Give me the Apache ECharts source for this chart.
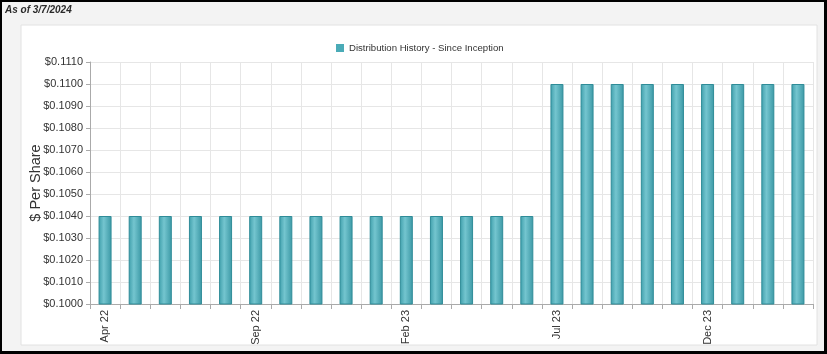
<!DOCTYPE html>
<html>
<head>
<meta charset="utf-8">
<script src="https://cdn.jsdelivr.net/npm/echarts@6/dist/echarts.min.js"></script>
<style>
  html, body { margin: 0; padding: 0; background: #000; }
  #main {
    width: 822px; height: 349px;
    border-style: solid; border-color: #000;
    border-width: 2px 3px 3px 2px;
    background: #f3f3f3;
  }
</style>
</head>
<body>
<div id="main"></div>
<script>
var months = ['Apr 22','May 22','Jun 22','Jul 22','Aug 22','Sep 22','Oct 22','Nov 22','Dec 22',
              'Jan 23','Feb 23','Mar 23','Apr 23','May 23','Jun 23','Jul 23','Aug 23','Sep 23',
              'Oct 23','Nov 23','Dec 23','Jan 24','Feb 24','Mar 24'];
var distributions = [0.104,0.104,0.104,0.104,0.104,0.104,0.104,0.104,0.104,0.104,0.104,0.104,0.104,0.104,0.104,
                     0.110,0.110,0.110,0.110,0.110,0.110,0.110,0.110,0.110];
var seriesName = 'Distribution History - Since Inception';
var asOfText = 'As of 3/7/2024';

document.addEventListener('DOMContentLoaded', function () {
  var myChart = echarts.init(document.getElementById('main'));

  var barColor = new echarts.graphic.LinearGradient(0, 0, 1, 0, [
    { offset: 0, color: '#3f9fab' },
    { offset: 0.4, color: '#74c5cf' },
    { offset: 1, color: '#3b98a5' }
  ]);

  var option = {
    animation: false,
    title: {
      text: asOfText,
      left: 3, top: 3, padding: 0,
      textStyle: { fontFamily: 'Liberation Sans', fontSize: 10, fontStyle: 'italic', fontWeight: 'bold', color: '#2a2a2a' }
    },
    graphic: [{
      type: 'rect', z: -10, silent: true,
      shape: { x: 19, y: 23, width: 796, height: 320 },
      style: { fill: '#fff', stroke: '#e2e2e2', lineWidth: 1 }
    }],
    legend: {
      left: 329, top: 36,
      itemWidth: 8, itemHeight: 8, itemGap: 10,
      textStyle: { fontFamily: 'Liberation Sans', fontSize: 9.6, color: '#333' },
      data: [{ name: seriesName, icon: 'rect', itemStyle: { color: '#4aabb7', borderWidth: 0 } }]
    },
    grid: { left: 88, top: 60, right: 11, bottom: 47 },
    xAxis: {
      type: 'category',
      data: months,
      axisLine: { lineStyle: { color: '#aaa' } },
      axisTick: { show: true, interval: 0, length: 5, lineStyle: { color: '#aaa' } },
      splitLine: { show: true, interval: 0, lineStyle: { color: '#e6e6e6' } },
      axisLabel: {
        interval: 4, rotate: 90, margin: 6,
        fontFamily: 'Liberation Sans', fontSize: 11, color: '#333'
      }
    },
    yAxis: {
      type: 'value',
      min: 0.1, max: 0.111, interval: 0.001,
      name: '$ Per Share',
      nameLocation: 'middle',
      nameGap: 47,
      nameMoveOverlap: false,
      nameTextStyle: { fontFamily: 'Liberation Sans', fontSize: 14.5, color: '#333' },
      axisLine: { show: true, lineStyle: { color: '#aaa' } },
      axisTick: { show: true, length: 4, lineStyle: { color: '#aaa' } },
      splitLine: { lineStyle: { color: '#e6e6e6' } },
      axisLabel: {
        margin: 7,
        fontFamily: 'Liberation Sans', fontSize: 11, color: '#333',
        formatter: function (v) { return '$' + v.toFixed(4); }
      }
    },
    series: [{
      name: seriesName,
      type: 'bar',
      data: distributions,
      barWidth: 13,
      itemStyle: { color: barColor, borderColor: '#2f8c98', borderWidth: 1 }
    }]
  };
  myChart.setOption(option);
  window.addEventListener('resize', function () { myChart.resize(); });
});
</script>
</body>
</html>
